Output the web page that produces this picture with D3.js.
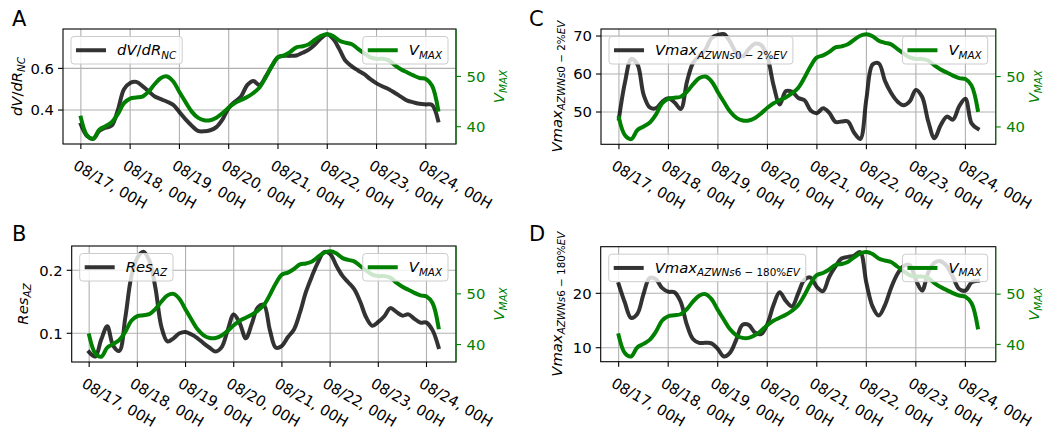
<!DOCTYPE html>
<html><head><meta charset="utf-8">
<script src="https://cdn.jsdelivr.net/npm/d3@7"></script>
<style>
body{margin:0;background:#fff}
svg{display:block}
text{font-family:"DejaVu Sans",sans-serif}
</style>
</head><body>
<svg id="chart" width="1064" height="430"></svg>
<script>
// ---- data (3-hourly, starting 08/17 00H) ----
const startTime = "2018-08-17T00:00:00Z";
const stepHours = 3;

const vmax = [41.8,38.3,37.6,39.4,40.1,40.9,42.5,44.7,45.6,45.8,
  46.0,47.0,48.5,49.7,50.0,49.0,46.9,44.9,43.0,41.8,
  41.3,41.3,41.8,42.7,43.8,44.7,45.3,45.9,46.7,47.8,
  49.8,52.1,53.8,54.2,54.9,55.8,56.0,56.4,57.3,58.1,
  58.4,58.0,57.1,56.7,56.4,55.5,54.6,53.8,53.5,53.5,
  53.2,52.2,51.4,50.8,50.2,49.7,49.5,48.2,43.4];

const dvdrNC = [0.33,0.275,0.262,0.30,0.315,0.325,0.40,0.50,0.53,0.535,
  0.515,0.49,0.465,0.452,0.44,0.425,0.39,0.355,0.325,0.30,
  0.298,0.303,0.318,0.355,0.41,0.44,0.465,0.52,0.54,0.52,
  0.56,0.61,0.654,0.66,0.66,0.662,0.675,0.69,0.715,0.745,
  0.764,0.74,0.69,0.635,0.61,0.59,0.572,0.548,0.528,0.513,
  0.50,0.482,0.463,0.445,0.437,0.43,0.427,0.425,0.35];

const resAZ = [0.070,0.063,0.090,0.111,0.080,0.072,0.125,0.19,0.22,0.2295,
  0.215,0.172,0.11,0.087,0.092,0.100,0.102,0.098,0.092,0.084,
  0.077,0.071,0.078,0.105,0.130,0.116,0.092,0.115,0.141,0.145,
  0.105,0.077,0.080,0.094,0.106,0.133,0.166,0.191,0.213,0.229,
  0.226,0.208,0.192,0.181,0.17,0.15,0.125,0.112,0.118,0.127,
  0.140,0.134,0.128,0.130,0.123,0.117,0.117,0.105,0.078];

const vmaxAZ0_2 = [48.3,58.0,64.0,62.5,54.5,51.2,51.0,52.7,53.6,52.5,
  50.8,58.0,63.0,64.7,66.5,69.5,70.3,70.5,68.4,65.5,
  64.6,66.6,68.0,67.6,64.5,57.0,52.0,55.5,55.3,53.7,
  53.1,50.4,49.7,51.0,49.8,47.4,47.5,47.5,44.6,42.9,
  53.5,62.5,62.8,58.2,55.0,52.8,51.8,52.8,55.8,54.0,
  47.5,43.1,46.5,48.8,48.0,51.5,53.5,47.0,45.6];

const vmaxAZ6_180 = [21.7,18.3,15.5,16.2,19.8,22.8,22.6,21.0,20.3,20.2,
  18.5,14.3,11.6,10.9,10.9,10.8,9.8,8.4,9.1,11.5,
  14.2,14.2,12.8,12.5,14.3,17.8,20.2,18.6,17.6,20.0,
  22.5,22.9,21.2,20.4,23.0,24.9,26.4,26.7,26.9,27.6,
  22.0,17.6,15.9,17.8,21.0,23.5,25.0,25.2,22.5,20.5,
  23.8,25.6,25.9,25.0,23.0,20.8,20.5,22.0,22.3];

const dayTicks = ["2018-08-17","2018-08-18","2018-08-19","2018-08-20",
  "2018-08-21","2018-08-22","2018-08-23","2018-08-24"];
const rightTicks = [40, 50];

// ---- layout ----
const FS = 14.8;
const t0 = new Date(startTime);
const times = vmax.map((_, i) => new Date(t0.getTime() + i * stepHours * 3600e3));
const span = times[times.length-1] - times[0];
const xDomain = [new Date(+times[0] - 0.05*span), new Date(+times[times.length-1] + 0.05*span)];
const rightDomain = [36.56, 59.44];
const tickFmt = d3.utcFormat("%m/%d, %HH");
const GREEN = "#008000";

const panels = [
 {letter:"A", lx:12, ly:26, box:{l:63,r:456,t:29,b:144}, series:dvdrNC, yDomain:[0.237,0.789],
  yTicks:[0.4,0.6], fmt:d3.format(".1f"), label:["dV/dR","NC"], ylx:21.5, rlx:504},
 {letter:"B", lx:12, ly:241, box:{l:71.7,r:456,t:246,b:362}, series:resAZ, yDomain:[0.0544,0.2386],
  yTicks:[0.1,0.2], fmt:d3.format(".1f"), label:["Res","AZ"], ylx:27.5, rlx:504},
 {letter:"C", lx:529, ly:26, box:{l:601,r:995.7,t:29,b:144.3}, series:vmaxAZ0_2, yDomain:[41.5,71.85],
  yTicks:[50,60,70], fmt:d3.format("d"), label:["Vmax","AZWNs0 \u2212 2%EV"], ylx:561.5, rlx:1039},
 {letter:"D", lx:529, ly:241, box:{l:600.7,r:995.7,t:246.7,b:361.7}, series:vmaxAZ6_180, yDomain:[7.43,28.57],
  yTicks:[10,20], fmt:d3.format("d"), label:["Vmax","AZWNs6 \u2212 180%EV"], ylx:561.5, rlx:1039}
];

const svg = d3.select("#chart");

function addRuns(sel, str, sub) {
  const runs = str.match(/[A-Za-z]+|[^A-Za-z]+/g);
  runs.forEach((r, i) => {
    const t = sel.append("tspan").text(r)
      .attr("font-style", /[A-Za-z]/.test(r) ? "italic" : "normal");
    if (sub) { t.attr("font-size", FS*0.7); if (i === 0) t.attr("dy", FS*0.22); }
  });
}
function mathText(sel, parts) {
  addRuns(sel, parts[0], false);
  if (parts[1]) addRuns(sel, parts[1], true);
}

function legend(g, x0, y0, anchorRight, parts, color) {
  const lg = g.append("g");
  const rect = lg.append("rect");
  const h = 27.5;
  const txt = lg.append("text").attr("font-size", FS).attr("fill", "#000");
  mathText(txt, parts);
  const tw = txt.node().getComputedTextLength();
  const w = 46 + tw + 6;
  const x = anchorRight ? x0 - w : x0;
  rect.attr("x", x).attr("y", y0).attr("width", w).attr("height", h).attr("rx", 3)
    .attr("fill", "#fff").attr("fill-opacity", 0.8).attr("stroke", "#cccccc").attr("stroke-width", 1);
  lg.append("line").attr("x1", x+5).attr("x2", x+35).attr("y1", y0+h/2).attr("y2", y0+h/2)
    .attr("stroke", color).attr("stroke-width", 4).attr("stroke-opacity", color === GREEN ? 1 : 0.8);
  txt.attr("x", x+46).attr("y", y0 + h/2 + 5.2);
}

panels.forEach(p => {
  const b = p.box;
  const g = svg.append("g");
  const x = d3.scaleUtc().domain(xDomain).range([b.l, b.r]);
  const y = d3.scaleLinear().domain(p.yDomain).range([b.b, b.t]);
  const y2 = d3.scaleLinear().domain(rightDomain).range([b.b, b.t]);
  const ticks = dayTicks.map(d => new Date(d + "T00:00:00Z"));

  // grid
  g.append("g").selectAll("line").data(ticks).join("line")
    .attr("x1", d => x(d)).attr("x2", d => x(d)).attr("y1", b.t).attr("y2", b.b)
    .attr("stroke", "#b0b0b0").attr("stroke-width", 1.1);
  g.append("g").selectAll("line").data(p.yTicks).join("line")
    .attr("x1", b.l).attr("x2", b.r).attr("y1", d => y(d)).attr("y2", d => y(d))
    .attr("stroke", "#b0b0b0").attr("stroke-width", 1.1);

  // black line
  const line1 = d3.line().x((d, i) => x(times[i])).y(d => y(d)).curve(d3.curveCatmullRom.alpha(0.5));
  g.append("path").attr("d", line1(p.series)).attr("fill", "none")
    .attr("stroke", "#000").attr("stroke-opacity", 0.8).attr("stroke-width", 4)
    .attr("stroke-linejoin", "round").attr("stroke-linecap", "square");

  // x ticks and labels
  g.append("g").selectAll("line").data(ticks).join("line")
    .attr("x1", d => x(d)).attr("x2", d => x(d)).attr("y1", b.b).attr("y2", b.b + 5)
    .attr("stroke", "#000").attr("stroke-width", 1.1);
  g.append("g").selectAll("text").data(ticks).join("text")
    .attr("font-size", FS).attr("fill", "#000")
    .attr("transform", d => `translate(${x(d) - 8.5},${b.b + 24.5}) rotate(30)`)
    .text(d => tickFmt(d));

  // left ticks
  g.append("g").selectAll("line").data(p.yTicks).join("line")
    .attr("x1", b.l - 5).attr("x2", b.l).attr("y1", d => y(d)).attr("y2", d => y(d))
    .attr("stroke", "#000").attr("stroke-width", 1.1);
  g.append("g").selectAll("text").data(p.yTicks).join("text")
    .attr("font-size", FS).attr("text-anchor", "end").attr("fill", "#000")
    .attr("x", b.l - 9).attr("y", d => y(d)).attr("dy", "0.36em").text(d => p.fmt(d));

  // left label
  const yl = g.append("text").attr("font-size", FS).attr("text-anchor", "middle").attr("fill", "#000")
    .attr("transform", `translate(${p.ylx},${(b.t + b.b)/2}) rotate(-90)`);
  mathText(yl, p.label);

  // spines (ax1)
  g.append("rect").attr("x", b.l).attr("y", b.t).attr("width", b.r - b.l).attr("height", b.b - b.t)
    .attr("fill", "none").attr("stroke", "#000").attr("stroke-width", 1.1);

  // ax1 legend
  legend(g, b.l + 8, b.t + 7.5, false, p.label, "#000");

  // green line (ax2)
  const line2 = d3.line().x((d, i) => x(times[i])).y(d => y2(d)).curve(d3.curveCatmullRom.alpha(0.5));
  g.append("path").attr("d", line2(vmax)).attr("fill", "none")
    .attr("stroke", GREEN).attr("stroke-width", 4)
    .attr("stroke-linejoin", "round").attr("stroke-linecap", "square");

  // right spine + ticks
  g.append("line").attr("x1", b.r).attr("x2", b.r).attr("y1", b.t).attr("y2", b.b)
    .attr("stroke", GREEN).attr("stroke-width", 1.1);
  g.append("g").selectAll("line").data(rightTicks).join("line")
    .attr("x1", b.r).attr("x2", b.r + 5).attr("y1", d => y2(d)).attr("y2", d => y2(d))
    .attr("stroke", GREEN).attr("stroke-width", 1.1);
  g.append("g").selectAll("text").data(rightTicks).join("text")
    .attr("font-size", FS).attr("fill", GREEN)
    .attr("x", b.r + 10.5).attr("y", d => y2(d)).attr("dy", "0.36em").text(d => d);
  const rl = g.append("text").attr("font-size", FS).attr("text-anchor", "middle").attr("fill", GREEN)
    .attr("transform", `translate(${p.rlx},${(b.t + b.b)/2}) rotate(-90)`);
  mathText(rl, ["V", "MAX"]);

  legend(g, b.r - 8, b.t + 7.5, true, ["V", "MAX"], GREEN);

  // panel letter
  svg.append("text").attr("x", p.lx).attr("y", p.ly).attr("font-size", 21).attr("fill", "#000").text(p.letter);
});
</script>
</body></html>
